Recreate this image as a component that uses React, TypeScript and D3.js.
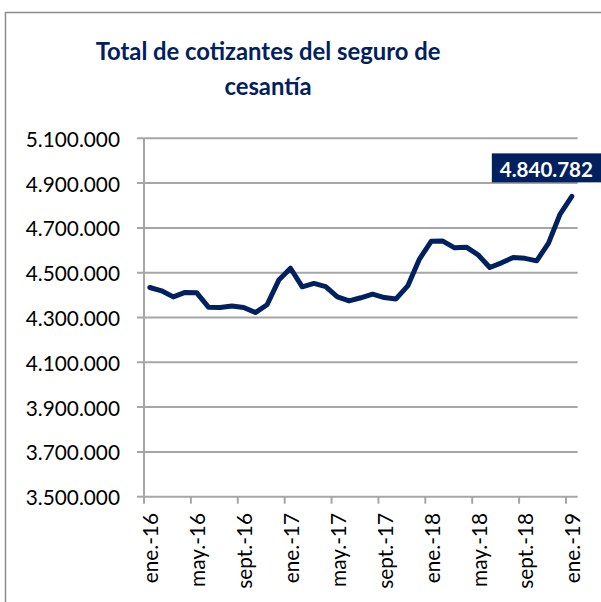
import React from "react";
import * as d3 from "d3";

const months = [
  "ene.-16","feb.-16","mar.-16","abr.-16","may.-16","jun.-16","jul.-16","ago.-16","sept.-16","oct.-16","nov.-16","dic.-16",
  "ene.-17","feb.-17","mar.-17","abr.-17","may.-17","jun.-17","jul.-17","ago.-17","sept.-17","oct.-17","nov.-17","dic.-17",
  "ene.-18","feb.-18","mar.-18","abr.-18","may.-18","jun.-18","jul.-18","ago.-18","sept.-18","oct.-18","nov.-18","dic.-18",
  "ene.-19",
];
const cotizantes = [
  4434000, 4419000, 4392000, 4412000, 4410000, 4346000, 4345000, 4351000, 4345000, 4322000, 4357000, 4467000,
  4520000, 4437000, 4452000, 4438000, 4392000, 4374000, 4388000, 4404000, 4389000, 4383000, 4441000, 4561000,
  4640000, 4641000, 4611000, 4614000, 4580000, 4523000, 4544000, 4568000, 4564000, 4553000, 4631000, 4762000,
  4840782,
];
const yTicks = [3500000, 3700000, 3900000, 4100000, 4300000, 4500000, 4700000, 4900000, 5100000];
const titleLines = ["Total de cotizantes del seguro de", "cesantía"];

const NAVY = "#002060";
const GRID = "#a6a6a6";
const FONT = "Lato, 'Noto Sans', sans-serif";

export default function App() {
  const W = 601, H = 602;
  const left = 144, right = 577.7, top = 138.3, bottom = 496.7;
  const x = d3.scaleBand<number>().domain(d3.range(months.length)).range([left, right]);
  const bw = x.bandwidth();
  const cx = (i: number) => (x(i) as number) + bw / 2;
  const y = d3.scaleLinear().domain([3500000, 5100000]).range([bottom, top]);
  const loc = d3.formatLocale({ decimal: ",", thousands: ".", grouping: [3], currency: ["$", ""] });
  const fmt = loc.format(",");
  const line = d3.line<number>().x((_, i) => cx(i)).y((d) => y(d));
  const lastI = cotizantes.length - 1;
  const px = cx(lastI), py = y(cotizantes[lastI]);
  const boxX = px - 80, boxY = py - 43, boxW = 112, boxH = 29;
  return (
    <svg width={W} height={H} style={{ position: "absolute", left: 0, top: 0, background: "#fff" }}>
      <path d={`M5.5,${H + 5} V12.5 H${W + 5}`} fill="none" stroke="#8c8c8c" strokeWidth={1.5} />
      {titleLines.map((t, i) => (
        <text key={i} x={268} y={59.5 + i * 35.7} textAnchor="middle" fontFamily={FONT} fontWeight="bold"
          fontSize={23.8} fill={NAVY}>{t}</text>
      ))}
      {yTicks.map((v) => (
        <g key={v}>
          <line x1={137} x2={v === 3500000 ? left : right} y1={y(v)} y2={y(v)} stroke={GRID} strokeWidth={2} />
          <text x={120} y={y(v)} textAnchor="end" dominantBaseline="central" fontFamily={FONT} fontSize={20.8}
            fill="#000">{fmt(v)}</text>
        </g>
      ))}
      <line x1={left} x2={left} y1={top} y2={bottom} stroke={GRID} strokeWidth={2} />
      <line x1={left} x2={right} y1={bottom} y2={bottom} stroke={GRID} strokeWidth={2} />
      {months.map((m, i) =>
        i % 4 === 0 ? (
          <g key={m}>
            <line x1={x(i)} x2={x(i)} y1={bottom} y2={bottom + 7} stroke={GRID} strokeWidth={2} />
            <text transform={`translate(${cx(i)},513) rotate(-90)`} textAnchor="end" dominantBaseline="central"
              fontFamily={FONT} fontSize={20.8} fill="#000">{m}</text>
          </g>
        ) : null
      )}
      <path d={line(cotizantes) as string} fill="none" stroke={NAVY} strokeWidth={5} strokeLinejoin="round"
        strokeLinecap="round" />
      <rect x={boxX} y={boxY} width={boxW} height={boxH} fill={NAVY} />
      <text x={boxX + 54.5} y={boxY + boxH / 2 + 1} textAnchor="middle" dominantBaseline="central" fontFamily={FONT}
        fontWeight="bold" fontSize={20.5} fill="#fff">{fmt(cotizantes[lastI])}</text>
    </svg>
  );
}
